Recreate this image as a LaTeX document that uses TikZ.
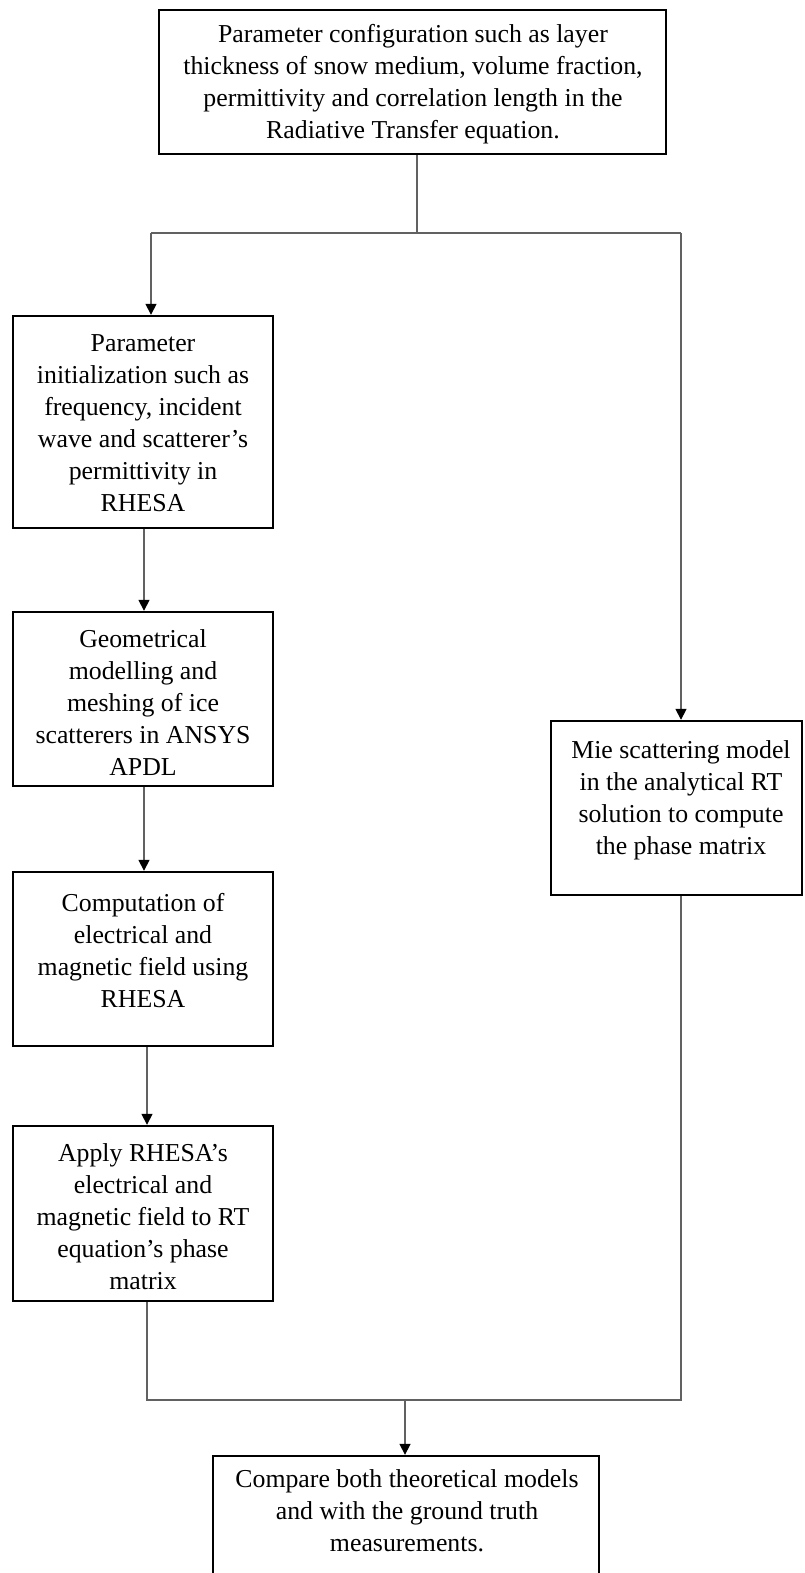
\documentclass[tikz,border=0pt]{standalone}
\usepackage{fontspec}
\setmainfont{Liberation Serif}
\usetikzlibrary{arrows.meta}
\begin{document}
\begin{tikzpicture}[x=1pt,y=-1pt,
  box/.style={draw=black,line width=2.4pt,inner sep=0pt,fill=white},
  label/.style={align=center,inner sep=0pt,font=\fontsize{25.8}{32}\selectfont},
  conn/.style={draw=black!62,line width=1.6pt},
  arr/.style={conn,-{Triangle[length=11pt,width=11pt,color=black]}}]
\useasboundingbox (0,0) rectangle (804,1573);
\begin{scope}
\clip (0,0) rectangle (804,1573);

% boxes
\node[box,minimum width=507pt,minimum height=144pt] (top) at (412.5,82) {};
\node[box,minimum width=260pt,minimum height=212pt] (b1) at (143,422) {};
\node[box,minimum width=260pt,minimum height=174pt] (b2) at (143,699) {};
\node[box,minimum width=260pt,minimum height=174pt] (b3) at (143,959) {};
\node[box,minimum width=260pt,minimum height=175pt] (b4) at (143,1213.5) {};
\node[box,minimum width=251pt,minimum height=174pt] (mie) at (676.5,808) {};
\node[box,minimum width=386pt,minimum height=160pt] (cmp) at (406,1536) {};

% texts
\node[label] (ttop) at (413,84) {Parameter configuration such as layer\\thickness of snow medium, volume fraction,\\permittivity and correlation length in the\\Radiative Transfer equation.};
\node[label] (tb1) at (143,423) {Parameter\\initialization such as\\frequency, incident\\wave and scatterer’s\\permittivity in\\RHESA};
\node[label] (tb2) at (143,703) {Geometrical\\modelling and\\meshing of ice\\scatterers in ANSYS\\APDL};
\node[label] (tb3) at (143,951) {Computation of\\electrical and\\magnetic field using\\RHESA};
\node[label] (tb4) at (143,1217) {Apply RHESA’s\\electrical and\\magnetic field to RT\\equation’s phase\\matrix};
\node[label] (tmie) at (681,800) {Mie scattering model\\in the analytical RT\\solution to compute\\the phase matrix};
\node[label] (tcmp) at (407,1511) {Compare both theoretical models\\and with the ground truth\\measurements.};

% junction points
\coordinate (j1) at (417,233);
\coordinate (hl) at (151,233);
\coordinate (hr) at (681,233);
\coordinate (bl) at (147,1400);
\coordinate (br) at (681,1400);
\coordinate (bm) at (405,1400);

% connectors
\draw[conn] (j1 |- top.south) -- (j1);
\draw[conn] (hl) -- (hr);
\draw[arr] (hl) -- (hl |- b1.north);
\draw[arr] (hr) -- (hr |- mie.north);
\draw[arr] ([xshift=1pt]b1.south) -- ([xshift=1pt]b2.north);
\draw[arr] ([xshift=1pt]b2.south) -- ([xshift=1pt]b3.north);
\draw[arr] ([xshift=4pt]b3.south) -- ([xshift=4pt]b4.north);
\draw[conn] (bl |- b4.south) -- (bl) -- (br) -- (br |- mie.south);
\draw[arr] (bm) -- (bm |- cmp.north);
\end{scope}
\end{tikzpicture}
\end{document}
